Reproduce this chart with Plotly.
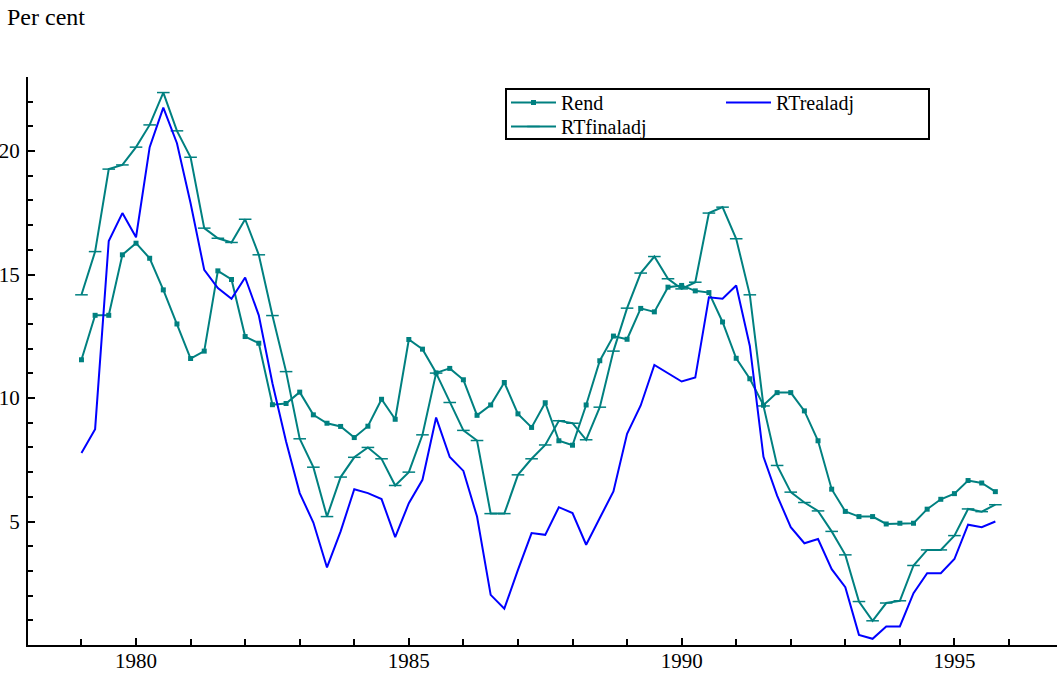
import plotly.graph_objects as go

# Quarterly time axis 1979Q1 .. 1995Q4
start_year = 1979
n_quarters = 68
quarters = [start_year + q * 0.25 for q in range(n_quarters)]

rend = [11.55, 13.35, 13.35, 15.8, 16.27, 15.66, 14.38, 13.0, 11.6, 11.9,
        15.15, 14.8, 12.49, 12.22, 9.73, 9.78, 10.24, 9.32, 8.98, 8.85,
        8.4, 8.86, 9.95, 9.14, 12.37, 11.98, 11.02, 11.2, 10.74, 9.3,
        9.72, 10.63, 9.36, 8.81, 9.81, 8.27, 8.09, 9.72, 11.51, 12.51,
        12.38, 13.63, 13.49, 14.49, 14.56, 14.34, 14.27, 13.08, 11.61, 10.78,
        9.71, 10.22, 10.22, 9.48, 8.27, 6.31, 5.41, 5.2, 5.2, 4.9,
        4.93, 4.93, 5.5, 5.9, 6.13, 6.66, 6.56, 6.21]

rt_final_adj = [14.18, 15.93, 19.27, 19.44, 20.16, 21.06, 22.37, 20.82, 19.75, 16.88,
                16.47, 16.3, 17.24, 15.8, 13.34, 11.07, 8.35, 7.2, 5.2, 6.8,
                7.6, 8.0, 7.54, 6.46, 7.0, 8.51, 11.01, 9.82, 8.69, 8.28,
                5.32, 5.32, 6.89, 7.54, 8.1, 9.08, 8.98, 8.31, 9.63, 11.9,
                13.64, 15.06, 15.73, 14.83, 14.42, 14.69, 17.49, 17.73, 16.45, 14.18,
                9.68, 7.27, 6.19, 5.77, 5.43, 4.6, 3.65, 1.76, 0.98, 1.7,
                1.79, 3.22, 3.85, 3.85, 4.43, 5.51, 5.4, 5.68]

rt_real_adj = [7.77, 8.74, 16.36, 17.49, 16.51, 20.16, 21.76, 20.32, 17.89, 15.19,
               14.45, 14.02, 14.88, 13.35, 10.6, 8.24, 6.15, 4.96, 3.14, 4.6,
               6.31, 6.15, 5.91, 4.37, 5.74, 6.69, 9.21, 7.61, 7.05, 5.2,
               2.03, 1.47, 3.04, 4.53, 4.46, 5.58, 5.34, 4.06, 5.14, 6.22,
               8.55, 9.7, 11.34, 11.0, 10.67, 10.83, 14.08, 14.02, 14.56, 12.11,
               7.62, 6.05, 4.77, 4.12, 4.29, 3.07, 2.34, 0.41, 0.25, 0.75,
               0.75, 2.1, 2.91, 2.91, 3.48, 4.87, 4.77, 5.0]

x_tick_years = [1980, 1985, 1990, 1995]
y_tick_values = [5, 10, 15, 20]

TEAL = "#008080"
BLUE = "#0000ff"
FONT = "Liberation Serif"

W, H = 1057, 675
L, R, T, B = 28, 0, 77, 30
PW, PH = W - L - R, H - T - B


def px_x(p):
    return (p - L) / PW


def px_y(p):
    return 1 - (p - T) / PH


fig = go.Figure()
fig.add_trace(go.Scatter(
    x=quarters, y=rend, name="Rend", mode="lines+markers",
    line=dict(color=TEAL, width=2),
    marker=dict(symbol="square", size=5, color=TEAL),
    legend="legend", showlegend=True,
))
fig.add_trace(go.Scatter(
    x=quarters, y=rt_final_adj, name="RTfinaladj", mode="lines+markers",
    line=dict(color=TEAL, width=2),
    marker=dict(symbol="line-ew", size=9, color=TEAL,
                line=dict(color=TEAL, width=1.5)),
    legend="legend3", showlegend=True,
))
fig.add_trace(go.Scatter(
    x=quarters, y=rt_real_adj, name="RTrealadj", mode="lines",
    line=dict(color=BLUE, width=2),
    legend="legend2", showlegend=True,
))

axis_common = dict(
    showline=True, linecolor="black", linewidth=2,
    showgrid=False, zeroline=False, automargin=False,
    ticks="inside", ticklen=7, tickwidth=1.5, tickcolor="black",
    tickfont=dict(family=FONT, size=21, color="black"),
)

legend_common = dict(
    xanchor="left", yanchor="top", orientation="v",
    bgcolor="rgba(0,0,0,0)", borderwidth=0, itemwidth=45,
    font=dict(family=FONT, size=20, color="black"),
)

fig.update_layout(
    width=W, height=H,
    showlegend=True,
    margin=dict(l=L, r=R, t=T, b=B, pad=0, autoexpand=False),
    paper_bgcolor="white", plot_bgcolor="white",
    font=dict(family=FONT, size=20, color="black"),
    xaxis=dict(
        range=[1978.02, 1996.88],
        tickmode="array", tickvals=x_tick_years,
        minor=dict(tickmode="linear", tick0=1980, dtick=1, ticks="inside",
                   ticklen=6, tickwidth=1.5, tickcolor="black"),
        ticklabelstandoff=-4,
        **axis_common,
    ),
    yaxis=dict(
        range=[0, 23],
        tickmode="array", tickvals=y_tick_values,
        minor=dict(tickmode="linear", tick0=0, dtick=1, ticks="inside",
                   ticklen=5, tickwidth=1.5, tickcolor="black"),
        ticklabelstandoff=2,
        **axis_common,
    ),
    legend=dict(x=px_x(506), y=px_y(83), **legend_common),
    legend3=dict(x=px_x(506), y=px_y(107), **legend_common),
    legend2=dict(x=px_x(721), y=px_y(83), **legend_common),
    shapes=[dict(
        type="rect", xref="paper", yref="paper",
        x0=px_x(506), x1=px_x(929), y0=px_y(139), y1=px_y(89),
        line=dict(color="black", width=2), fillcolor="rgba(0,0,0,0)",
    )],
    annotations=[dict(
        text="Per cent", xref="paper", yref="paper",
        x=px_x(5), y=px_y(2), xanchor="left", yanchor="top",
        showarrow=False, font=dict(family=FONT, size=24, color="black"),
    )],
)

fig.write_html("out.html",
               config={"displayModeBar": False},
               post_script="document.body.style.margin='0';document.body.style.overflow='hidden';")
